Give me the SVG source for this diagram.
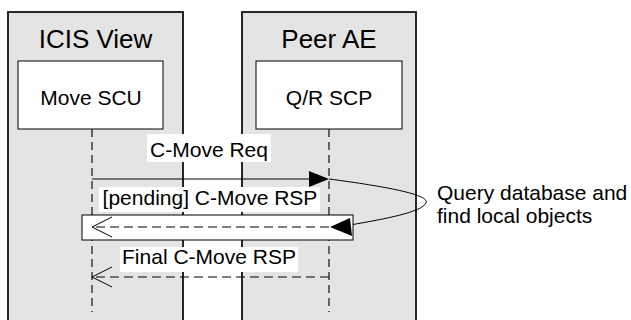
<svg xmlns="http://www.w3.org/2000/svg" width="631" height="320" viewBox="0 0 631 320">
<style>
.sys{fill:#e4e4e4;stroke:#111;stroke-width:1.8}
.obj{fill:#fff;stroke:#000;stroke-width:1}
.life{stroke:#111;stroke-width:1.2;stroke-dasharray:8,5;fill:none}
.msg{stroke:#000;stroke-width:1;fill:none}
.ret{stroke:#000;stroke-width:1;fill:none;stroke-dasharray:9,5}
.bg{fill:#fff;stroke:none}
text{font-family:"Liberation Sans",Arial,sans-serif;fill:#000}
.t26{font-size:26px}
.t21{font-size:21px}
</style>
<rect width="631" height="320" fill="#fff"/>
<g id="icis-view">
<rect class="sys" x="8" y="12" width="175" height="312"/>
<text class="t26" x="95.5" y="48" text-anchor="middle">ICIS View</text>
</g>
<g id="peer-ae">
<rect class="sys" x="242" y="12" width="174" height="312"/>
<text class="t26" x="329" y="48" text-anchor="middle">Peer AE</text>
</g>
<g id="move-scu">
<rect class="obj" x="18" y="61" width="145" height="68"/>
<text class="t21" x="91" y="105" text-anchor="middle">Move SCU</text>
</g>
<g id="qr-scp">
<rect class="obj" x="256" y="61" width="146" height="68"/>
<text class="t21" x="329" y="105" text-anchor="middle">Q/R SCP</text>
</g>
<g id="connectors">
<line class="life" x1="92" y1="129" x2="92" y2="312"/>
<line class="life" x1="329" y1="129" x2="329" y2="312"/>
<line class="msg" x1="92" y1="179" x2="312" y2="179"/>
<polygon points="329,179 309,171 309,187" fill="#000"/>
<rect class="bg" x="147" y="134" width="124" height="28"/>
<text class="t21" x="209" y="157" text-anchor="middle">C-Move Req</text>
<path class="msg" d="M329,179 C390,187 430,195 426,203 C422,212 385,219 350,225"/>
<rect class="bg" x="99" y="187" width="221" height="25"/>
<text class="t21" x="210" y="205" text-anchor="middle">[pending] C-Move RSP</text>
<rect class="obj" x="82" y="215" width="271" height="25"/>
<line class="ret" x1="329" y1="227" x2="93" y2="227"/>
<polyline class="msg" points="112,217 92,227 112,237"/>
<polygon points="330,227 350,218 352,236" fill="#000"/>
<rect class="bg" x="120" y="247" width="178" height="25"/>
<text class="t21" x="209" y="264" text-anchor="middle">Final C-Move RSP</text>
<line class="ret" x1="329" y1="277" x2="93" y2="277"/>
<polyline class="msg" points="112,267 92,277 112,287"/>
</g>
<g id="note">
<text class="t21" x="437" y="200">Query database and</text>
<text class="t21" x="437" y="223">find local objects</text>
</g>
</svg>
